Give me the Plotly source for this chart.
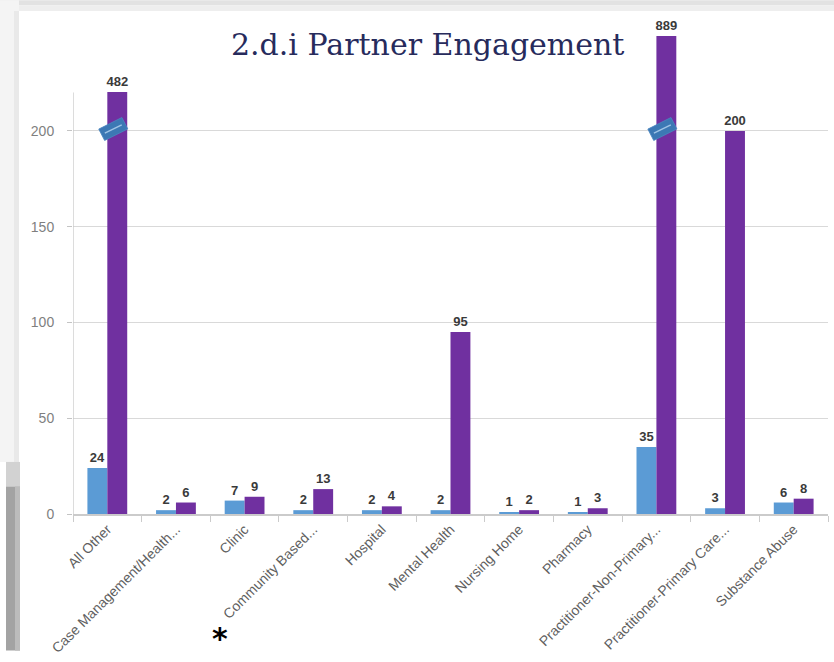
import math
import plotly.graph_objects as go

# ---------------- data ----------------
categories = [
    "All Other", "Case Management/Health...", "Clinic", "Community Based...",
    "Hospital", "Mental Health", "Nursing Home", "Pharmacy",
    "Practitioner-Non-Primary...", "Practitioner-Primary Care...", "Substance Abuse",
]
series_blue = [24, 2, 7, 2, 2, 2, 1, 1, 35, 3, 6]
series_purple = [482, 6, 9, 13, 4, 95, 2, 3, 889, 200, 8]
y_ticks = [0, 50, 100, 150, 200]
y_tick_labels = ["0", "50", "100", "150", "200"]
title_text = "2.d.i Partner Engagement"

# ---------------- style / layout ----------------
W, H = 834, 662
L, R, T, B = 73, 6, 16, 139
Y_MAX = 260
X_MIN, X_MAX = -0.5, len(categories) - 0.5
BREAK = 200          # axis break for very tall bars
COMPRESS = 0.072     # scale of the part above the break
AXIS_TOP = 220
BAR_W = 0.29
BLUE = "#5B9BD5"
PURPLE = "#7030A0"

plot_w = W - L - R
plot_h = H - T - B
px_per_x = plot_w / (X_MAX - X_MIN)
px_per_y = plot_h / Y_MAX


def shown(v):
    return v if v <= BREAK else BREAK + (v - BREAK) * COMPRESS


def pxp(x):
    return (x - L) / plot_w


def pyp(y):
    return (H - B - y) / plot_h


xs = list(range(len(categories)))
label_font = dict(family="Liberation Sans", size=13, color="#3a3a3a")

fig = go.Figure()
fig.add_trace(go.Bar(
    x=xs, y=[shown(v) for v in series_blue], width=BAR_W, offset=-BAR_W,
    marker=dict(color=BLUE, line=dict(width=0)),
    text=[f"<b>{v}</b>" for v in series_blue], textposition="outside",
    constraintext="none", cliponaxis=False, textfont=label_font,
    showlegend=False, hoverinfo="skip",
))
fig.add_trace(go.Bar(
    x=xs, y=[shown(v) for v in series_purple], width=BAR_W, offset=0,
    marker=dict(color=PURPLE, line=dict(width=0)),
    text=[f"<b>{v}</b>" for v in series_purple], textposition="outside",
    constraintext="none", cliponaxis=False, textfont=label_font,
    showlegend=False, hoverinfo="skip",
))

shapes = []
# frame of the slide screenshot
def rect(x0, y0, x1, y1, color):
    shapes.append(dict(type="rect", xref="paper", yref="paper",
                       x0=pxp(x0), x1=pxp(x1), y0=pyp(y1), y1=pyp(y0),
                       fillcolor=color, line=dict(width=0), layer="below"))

rect(0, 0, W, 5, "#e2e2e2")
rect(0, 5, W, 11, "#eeeeee")
rect(0, 0, 19, 470, "#f4f4f4")
rect(14, 11, 19, 470, "#e9e9e9")
rect(0, 470, 6, H, "#ffffff")
rect(6, 470, 20, 495, "#d2d2d2")
rect(6, 495, 20, H, "#a3a3a3")
rect(15, 495, 20, H, "#bcbcbc")

# y axis line
shapes.append(dict(type="line", xref="x", yref="y", x0=X_MIN, x1=X_MIN,
                   y0=0, y1=AXIS_TOP, line=dict(color="#c4c4c4", width=1.2)))

# break marks on bars above the break
ang = math.radians(27)
half_len, half_th = 13, 6.5
for i, v in enumerate(series_purple):
    if v > BREAK:
        cx = i + BAR_W / 2 - 4 / px_per_x
        cy = BREAK + 1
        ux, uy = math.cos(ang), math.sin(ang)
        vx, vy = -math.sin(ang), math.cos(ang)
        pts = []
        for a, b in [(-1, -1), (1, -1), (1, 1), (-1, 1)]:
            dx = a * half_len * ux + b * half_th * vx
            dy = a * half_len * uy + b * half_th * vy
            pts.append((cx + dx / px_per_x, cy + dy / px_per_y))
        path = "M " + " L ".join(f"{p[0]},{p[1]}" for p in pts) + " Z"
        shapes.append(dict(type="path", xref="x", yref="y", path=path,
                           fillcolor="#3c78b4", line=dict(color="#4a86c0", width=0.8)))
        ll = half_len - 3.5
        shapes.append(dict(type="line", xref="x", yref="y",
                           x0=cx - ll * ux / px_per_x, y0=cy - ll * uy / px_per_y,
                           x1=cx + ll * ux / px_per_x, y1=cy + ll * uy / px_per_y,
                           line=dict(color="#9fc4e6", width=1.4)))

fig.update_layout(
    width=W, height=H,
    margin=dict(l=L, r=R, t=T, b=B, pad=0),
    paper_bgcolor="white", plot_bgcolor="rgba(0,0,0,0)",
    barmode="overlay",
    shapes=shapes,
    annotations=[
        dict(text=title_text, xref="paper", yref="paper", x=pxp(427), y=pyp(45),
             xanchor="center", yanchor="middle", showarrow=False,
             font=dict(family="DejaVu Serif", size=30, color="#272b5c")),
        dict(text="<b>*</b>", xref="paper", yref="paper", x=pxp(220), y=pyp(650),
             xanchor="center", yanchor="middle", showarrow=False,
             font=dict(family="DejaVu Sans", size=30, color="#000000")),
    ],
    xaxis=dict(
        range=[X_MIN, X_MAX], tickmode="array", tickvals=xs, ticktext=categories,
        tickangle=-45, ticks="", showgrid=False, zeroline=False,
        showline=True, linecolor="#cbcbcb", linewidth=1.6,
        tickfont=dict(family="Liberation Sans", size=14, color="#5f5f5f"),
        minor=dict(tickmode="array", tickvals=[k - 0.5 for k in range(len(categories) + 1)],
                   ticks="outside", ticklen=6, tickcolor="#cbcbcb", tickwidth=1.2,
                   showgrid=False),
    ),
    yaxis=dict(
        range=[0, Y_MAX], tickmode="array", tickvals=y_ticks, ticktext=y_tick_labels,
        showgrid=True, gridcolor="#d9d9d9", gridwidth=1.3, zeroline=False,
        showline=False, ticks="outside", ticklen=5, tickcolor="#c4c4c4",
        tickfont=dict(family="Liberation Sans", size=14, color="#7f7f7f"),
        ticklabelstandoff=10,
    ),
)

fig.write_html("out.html")
